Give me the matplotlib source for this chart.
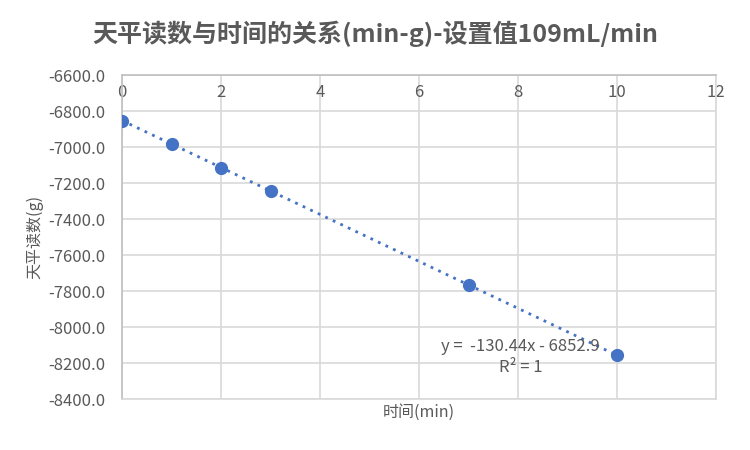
import matplotlib
matplotlib.use("Agg")
import matplotlib.pyplot as plt
import numpy as np

plt.rcParams['font.family'] = ['Noto Sans CJK SC', 'DejaVu Sans']

time_min = [0, 1, 2, 3, 7, 10]
reading_g = [-6853, -6983, -7114, -7244, -7766, -8157]
x_ticks = [0, 2, 4, 6, 8, 10, 12]
y_ticks = [-6600, -6800, -7000, -7200, -7400, -7600, -7800, -8000, -8200, -8400]

title = "天平读数与时间的关系(min-g)-设置值109mL/min"
xlabel = "时间(min)"
ylabel = "天平读数(g)"

blue = "#4472C4"
grey_text = "#595959"
grid_c = "#D9D9D9"

fig = plt.figure(figsize=(7.5, 4.5), dpi=100)
ax = fig.add_axes([122/750, 1-399/450, (716-122)/750, (399-75)/450])

ax.set_xlim(0, 12)
ax.set_ylim(-8400, -6600)
ax.set_xticks(x_ticks)
ax.set_yticks(y_ticks)
ax.set_yticklabels([f"{v:.1f}" for v in y_ticks])
ax.grid(True, color=grid_c, linewidth=1.2)
ax.set_axisbelow(True)

for s in ['right', 'bottom']:
    ax.spines[s].set_color(grid_c)
    ax.spines[s].set_linewidth(1.2)
for s in ['left', 'top']:
    ax.spines[s].set_color("#BFBFBF")
    ax.spines[s].set_linewidth(1.2)

ax.xaxis.set_ticks_position('top')
ax.tick_params(axis='x', labeltop=True, labelbottom=False, length=0, pad=-19,
               labelsize=12, labelcolor=grey_text)
ax.tick_params(axis='y', length=0, pad=12, labelsize=12, labelcolor=grey_text)

# trendline
coef = np.polyfit(time_min, reading_g, 1)
xx = np.array([min(time_min), max(time_min)])
ax.plot(xx, np.polyval(coef, xx), linestyle=(0, (1, 2)), color=blue, linewidth=2, zorder=2)
ax.plot(time_min, reading_g, 'o', color=blue, markersize=8.5, zorder=3)

ax.text(8.05, -8110, "y =  -130.44x - 6852.9", ha='center', va='center',
        fontsize=12, color=grey_text)
ax.text(8.05, -8225, "R² = 1", ha='center', va='center', fontsize=12, color=grey_text)

fig.text(419/750, 1-412/450, xlabel, ha='center', va='center', fontsize=11.5, color=grey_text)
fig.text(35/750, 1-237/450, ylabel, ha='center', va='center', rotation=90,
         fontsize=11.5, color=grey_text)
fig.text(375/750, 1-34/450, title, ha='center', va='center', fontsize=18,
         fontweight='bold', color=grey_text)

fig.savefig("out.png", dpi=100)
